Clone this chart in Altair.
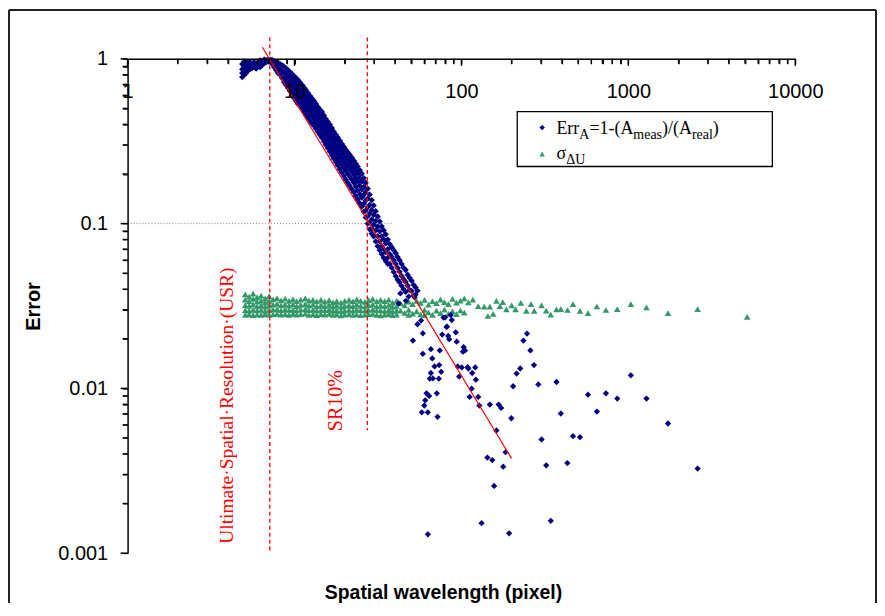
import altair as alt
import pandas as pd

# ---------------- axis ticks ----------------
x_ticks = [1, 2, 3, 4, 5, 6, 7, 8, 9, 10, 20, 30, 40, 50, 60, 70, 80, 90,
           100, 200, 300, 400, 500, 600, 700, 800, 900,
           1000, 2000, 3000, 4000, 5000, 6000, 7000, 8000, 9000, 10000]
x_labels = [1, 10, 100, 1000, 10000]
y_ticks = [0.001, 0.002, 0.003, 0.004, 0.005, 0.006, 0.007, 0.008, 0.009,
           0.01, 0.02, 0.03, 0.04, 0.05, 0.06, 0.07, 0.08, 0.09,
           0.1, 0.2, 0.3, 0.4, 0.5, 0.6, 0.7, 0.8, 0.9, 1]
y_labels = [0.001, 0.01, 0.1, 1]

# ---------------- Err_A series: dense band (x, [y...]) ----------------
err_band = [
    (4.86, [0.929, 0.866, 0.820, 0.775]),
    (5.13, [0.942, 0.878, 0.820]),
    (5.42, [0.955, 0.903, 0.866]),
    (5.73, [0.955, 0.891]),
    (6.05, [0.955, 0.903]),
    (6.40, [0.968, 0.916]),
    (6.76, [0.982, 0.955]),
    (7.14, [0.989, 0.968]),
    (7.54, [0.968, 0.891]),
    (7.97, [0.942, 0.878, 0.820]),
    (8.42, [0.916, 0.843, 0.765]),
    (8.90, [0.878, 0.809, 0.743, 0.693]),
    (9.40, [0.831, 0.765, 0.703, 0.638]),
    (9.93, [0.786, 0.723, 0.665, 0.620, 0.579]),
    (10.5, [0.743, 0.684, 0.629, 0.579, 0.532]),
    (11.1, [0.693, 0.638, 0.587, 0.540, 0.497]),
    (11.7, [0.647, 0.595, 0.547, 0.504, 0.457]),
    (12.4, [0.595, 0.547, 0.504, 0.463, 0.420]),
    (13.1, [0.555, 0.511, 0.470, 0.432, 0.392]),
    (13.8, [0.511, 0.470, 0.432, 0.398, 0.361]),
    (14.6, [0.476, 0.438, 0.403, 0.366, 0.332]),
    (15.4, [0.432, 0.398, 0.366, 0.332, 0.301]),
    (16.3, [0.398, 0.366, 0.332, 0.301, 0.273]),
    (17.2, [0.361, 0.332, 0.301, 0.273, 0.248]),
    (18.2, [0.332, 0.301, 0.273, 0.248, 0.225]),
    (19.2, [0.305, 0.277, 0.252, 0.228, 0.204]),
    (20.3, [0.281, 0.255, 0.231, 0.210, 0.185]),
    (21.4, [0.262, 0.238, 0.216, 0.193, 0.170]),
    (22.7, [0.241, 0.219, 0.198, 0.177, 0.155]),
    (23.9, [0.222, 0.201, 0.180, 0.159, 0.140]),
    (25.3, [0.201, 0.180, 0.161, 0.144, 0.127]),
    (26.7, [0.177, 0.155, 0.138, 0.120, 0.109]),
    (28.2, [0.150, 0.130, 0.115, 0.102, 0.0923]),
    (29.8, [0.129, 0.113, 0.0986, 0.0838]),
    (31.5, [0.1105, 0.0962, 0.0838, 0.0730]),
    (33.3, [0.0962, 0.0838, 0.0730, 0.0653]),
    (35.2, [0.0861, 0.0760, 0.0671, 0.0593]),
    (37.2, [0.0750, 0.0653, 0.0569]),
    (39.3, [0.0690, 0.0601, 0.0509]),
    (41.5, [0.0627, 0.0538, 0.0456]),
    (43.8, [0.0569, 0.0481, 0.0419]),
    (46.3, [0.0523, 0.0443, 0.0385]),
    (48.9, [0.0469, 0.0396]),
    (51.7, [0.0425, 0.0365]),
    (54.6, [0.0391]),
]
# second (staggered) set of readings inside the same dense band
err_band_b = [
    (4.99, [0.960, 0.898, 0.843, 0.797]),
    (5.27, [0.962, 0.910, 0.849]),
    (5.57, [0.935, 0.878]),
    (5.89, [0.929, 0.872]),
    (6.22, [0.980, 0.935, 0.890]),
    (6.58, [0.990, 0.942]),
    (6.95, [0.985, 0.962]),
    (7.34, [0.985, 0.935]),
    (7.75, [0.955, 0.916, 0.855]),
    (8.19, [0.929, 0.861, 0.800]),
    (8.66, [0.897, 0.826, 0.765, 0.720]),
    (9.15, [0.855, 0.787, 0.723, 0.665]),
    (9.66, [0.810, 0.745, 0.686, 0.640, 0.600]),
    (10.2, [0.765, 0.703, 0.647, 0.600, 0.555]),
    (10.8, [0.718, 0.660, 0.607, 0.560, 0.515]),
    (11.4, [0.670, 0.616, 0.567, 0.522, 0.477]),
    (12.05, [0.620, 0.570, 0.525, 0.483, 0.440]),
    (12.75, [0.575, 0.529, 0.487, 0.447, 0.405]),
    (13.45, [0.533, 0.490, 0.451, 0.415, 0.376]),
    (14.2, [0.493, 0.453, 0.417, 0.382, 0.346]),
    (15.0, [0.453, 0.417, 0.383, 0.349, 0.316]),
    (15.85, [0.415, 0.382, 0.349, 0.316, 0.287]),
    (16.75, [0.380, 0.349, 0.316, 0.287, 0.260]),
    (17.7, [0.346, 0.316, 0.287, 0.260, 0.236]),
    (18.7, [0.318, 0.289, 0.262, 0.237, 0.214]),
    (19.75, [0.293, 0.266, 0.241, 0.219, 0.195]),
    (20.85, [0.271, 0.246, 0.223, 0.201, 0.177]),
    (22.05, [0.251, 0.228, 0.207, 0.185, 0.162]),
    (23.3, [0.231, 0.210, 0.189, 0.168, 0.147]),
    (24.6, [0.211, 0.190, 0.170, 0.151, 0.133]),
    (26.0, [0.189, 0.167, 0.149, 0.132, 0.118]),
    (27.45, [0.163, 0.142, 0.126, 0.111, 0.100]),
    (29.0, [0.139, 0.121, 0.106, 0.093, 0.087]),
    (30.65, [0.119, 0.104, 0.091, 0.078]),
    (32.4, [0.103, 0.090, 0.078, 0.069]),
    (34.25, [0.091, 0.080, 0.070, 0.062]),
    (36.2, [0.080, 0.070, 0.062, 0.057]),
    (38.2, [0.072, 0.063, 0.054]),
    (40.4, [0.066, 0.057, 0.048]),
    (42.6, [0.060, 0.051, 0.044]),
    (45.0, [0.054, 0.046, 0.040]),
    (47.6, [0.049, 0.042]),
    (50.3, [0.045, 0.039]),
    (53.1, [0.041, 0.037]),
]

# ---------------- Err_A series: scattered points (x, y) ----------------
err_scatter = [
    (43.05, 0.0377), (46.5, 0.0340), (48.3, 0.0361), (52.4, 0.0357), (42.1, 0.0328),
    (51.2, 0.0195), (58.7, 0.0216), (54.6, 0.0245), (57.3, 0.0258), (58.7, 0.0162),
    (65.6, 0.0173), (74.2, 0.0170), (66.9, 0.0152), (69.0, 0.0136), (73.6, 0.01385),
    (75.6, 0.0126), (65.6, 0.0124), (64.7, 0.01145), (67.4, 0.0115), (73.2, 0.01145),
    (61.8, 0.00933), (64.1, 0.0090), (60.7, 0.00846), (59.9, 0.00786), (57.9, 0.00716),
    (62.9, 0.00716), (71.2, 0.00933), (71.9, 0.00672), (76.7, 0.0212), (81.4, 0.0236),
    (83.3, 0.0208), (84.5, 0.0199), (92.5, 0.0219), (93.7, 0.0192), (103, 0.0178),
    (102, 0.0167), (105, 0.0170), (78.1, 0.0269), (86.3, 0.0279), (87.5, 0.0260),
    (95.0, 0.0136), (100.4, 0.0134), (109, 0.01345), (110, 0.0132), (121, 0.0134),
    (96.9, 0.0118), (116, 0.0124), (122, 0.0113), (115, 0.00996), (112, 0.00887),
    (126, 0.00887), (128, 0.00786), (148, 0.00797), (167, 0.00797), (173, 0.00761),
    (199, 0.00659), (162, 0.00555), (184, 0.00410), (143, 0.00380), (153, 0.00367),
    (178, 0.00335), (157, 0.00256), (132, 0.00152), (193, 0.00132), (62.9, 0.00130),
    (204, 0.0103), (214, 0.0123), (225, 0.0132), (235, 0.0195), (247, 0.0215),
    (259, 0.0170), (272, 0.01385), (289, 0.01057), (371, 0.01093), (394, 0.00703),
    (302, 0.00490), (322, 0.00341), (431, 0.00352), (466, 0.00513), (513, 0.00506),
    (343, 0.00157), (573, 0.00916), (648, 0.00723), (734, 0.00933), (858, 0.00867),
    (1035, 0.0120), (1284, 0.00867), (1728, 0.00612), (2600, 0.00326), (81.9, 0.0237),
    (80.0, 0.0270),
]

# ---------------- sigma_dU series: dense band (x, [y...]) ----------------
sig_band = [
    (5.07, [0.0372, 0.0346, 0.0320, 0.0298, 0.0279]),
    (5.35, [0.0361, 0.0338, 0.0317, 0.0296, 0.0281]),
    (5.65, [0.0376, 0.0349, 0.0323, 0.0300, 0.0278]),
    (5.97, [0.0358, 0.0336, 0.0315, 0.0297, 0.0280]),
    (6.31, [0.0366, 0.0341, 0.0319, 0.0299, 0.0279]),
    (6.67, [0.0352, 0.0332, 0.0313, 0.0295, 0.0281]),
    (7.04, [0.0363, 0.0340, 0.0318, 0.0298, 0.0280]),
    (7.44, [0.0347, 0.0322, 0.0301, 0.0281]),
    (7.86, [0.0353, 0.0326, 0.0303, 0.0283]),
    (8.31, [0.0342, 0.0319, 0.0298, 0.0280]),
    (8.78, [0.0350, 0.0324, 0.0302, 0.0282]),
    (9.27, [0.0340, 0.0318, 0.0299, 0.0279]),
    (9.79, [0.0348, 0.0323, 0.0300, 0.0283]),
    (10.3, [0.0338, 0.0316, 0.0297, 0.0280]),
    (10.9, [0.0346, 0.0321, 0.0301, 0.0282]),
    (11.6, [0.0352, 0.0325, 0.0303, 0.0284]),
    (12.2, [0.0341, 0.0318, 0.0298, 0.0279]),
    (12.9, [0.0345, 0.0322, 0.0300, 0.0281]),
    (13.6, [0.0337, 0.0315, 0.0296, 0.0278]),
    (14.4, [0.0344, 0.0320, 0.0299, 0.0282]),
    (15.2, [0.0336, 0.0316, 0.0298, 0.0280]),
    (16.1, [0.0343, 0.0321, 0.0301, 0.0283]),
    (17.0, [0.0333, 0.0313, 0.0295, 0.0279]),
    (17.9, [0.0339, 0.0318, 0.0298, 0.0281]),
    (19.0, [0.0331, 0.0312, 0.0294, 0.0277]),
    (20.0, [0.0340, 0.0317, 0.0297, 0.0280]),
    (21.2, [0.0345, 0.0320, 0.0300, 0.0282]),
    (22.4, [0.0338, 0.0316, 0.0296, 0.0279]),
    (23.6, [0.0347, 0.0322, 0.0301, 0.0281]),
    (24.9, [0.0340, 0.0317, 0.0298, 0.0278]),
    (26.4, [0.0335, 0.0314, 0.0296, 0.0280]),
    (27.8, [0.0343, 0.0320, 0.0299, 0.0282]),
    (29.4, [0.0349, 0.0323, 0.0302, 0.0283]),
    (31.1, [0.0337, 0.0315, 0.0297, 0.0279]),
    (32.8, [0.0344, 0.0319, 0.0298, 0.0277]),
    (34.7, [0.0339, 0.0316, 0.0295, 0.0280]),
    (36.7, [0.0346, 0.0321, 0.0300, 0.0282]),
    (38.7, [0.0332, 0.0312, 0.0294, 0.0278]),
    (40.9, [0.0341, 0.0317, 0.0297, 0.0280]),
    (43.2, [0.0328, 0.0296]),
    (45.7, [0.0319, 0.0287]),
    (48.3, [0.0336, 0.0300, 0.0279]),
    (51.0, [0.0325, 0.0284]),
    (53.9, [0.0340, 0.0293]),
    (56.9, [0.0330, 0.0281]),
    (60.1, [0.0344, 0.0300, 0.0278]),
    (63.5, [0.0322, 0.0289]),
    (67.1, [0.0338, 0.0279]),
    (70.9, [0.0329, 0.0296]),
    (74.9, [0.0346, 0.0286]),
    (79.1, [0.0334, 0.0301]),
    (83.6, [0.0325, 0.0283]),
    (88.4, [0.0349, 0.0294]),
    (93.3, [0.0331, 0.0282]),
    (98.6, [0.0341, 0.0297]),
    (104, [0.0352, 0.0288]),
]

# ---------------- sigma_dU series: sparse points (x, y) ----------------
sig_scatter = [
    (110, 0.0333), (117, 0.0346), (126, 0.0316), (137, 0.0313), (144, 0.0275),
    (148, 0.0313), (155, 0.0283), (162, 0.0340), (170, 0.0316), (177, 0.0334),
    (186, 0.0302), (200, 0.0319), (211, 0.0302), (227, 0.0330), (245, 0.0295),
    (261, 0.0325), (273, 0.0295), (302, 0.0319), (322, 0.0296), (343, 0.0280),
    (371, 0.0302), (394, 0.0303), (432, 0.0299), (466, 0.0325), (513, 0.0295),
    (573, 0.0286), (648, 0.0314), (734, 0.0299), (858, 0.0303), (1035, 0.0325),
    (1284, 0.0310), (1728, 0.0286), (2600, 0.0303), (5148, 0.0272),
]

# ---------------- reference lines ----------------
fit_x = [6.42, 199.6]
fit_y = [1.177, 0.00376]
usr_x, usr_top, usr_bottom = 7.11, 1.35, 0.00102
sr10_x, sr10_top, sr10_bottom = 27.3, 1.35, 0.00557
h10_x1, h10_x2, h10_y = 1, 38.7, 0.1

# annotation anchors (data coords, start of rotated text)
usr_label = ("Ultimate·Spatial·Resolution·(USR)", 4.29, 0.00114)
sr10_label = ("SR10%", 19.35, 0.0055)

# ---------------- frames ----------------
band_rows = ([(x, y) for x, ys_ in err_band for y in ys_]
             + [(x, y) for x, ys_ in err_band_b for y in ys_] + err_scatter)
err_df = pd.DataFrame(band_rows, columns=["x", "y"])
sig_rows = [(x, y) for x, ys_ in sig_band for y in ys_] + sig_scatter
sig_df = pd.DataFrame(sig_rows, columns=["x", "y"])
fit_df = pd.DataFrame({"x": fit_x, "y": fit_y})
vl_df = pd.DataFrame({"x": [usr_x, sr10_x], "y": [usr_top, sr10_top],
                      "y2": [usr_bottom, sr10_bottom]})
hl_df = pd.DataFrame({"x": [h10_x1], "x2": [h10_x2], "y": [h10_y]})
xt_major = pd.DataFrame({"x": [v for v in x_ticks if v in x_labels]})
xt_minor = pd.DataFrame({"x": [v for v in x_ticks if v not in x_labels]})
yt_major = pd.DataFrame({"y": [v for v in y_ticks if v in y_labels]})
yt_minor = pd.DataFrame({"y": [v for v in y_ticks if v not in y_labels]})
one = pd.DataFrame({"a": [0]})

W, H = 670, 496
xs = alt.Scale(type="log", domain=[1, 10000], nice=False)
ys = alt.Scale(type="log", domain=[0.001, 1], nice=False)

x_axis = alt.Axis(
    orient="bottom", offset=-H, values=x_ticks, format="~g",
    labelExpr=f"indexof({x_labels}, datum.value) >= 0 ? datum.label : ''",
    labelFlush=False, labelOverlap=False, ticks=True, tickSize=5, labelPadding=18,
    domain=True, domainColor="black", domainWidth=1.5, tickColor="black", tickWidth=1,
    tickOpacity=1, labelColor="black", labelFont="Liberation Sans", labelFontSize=20,
    grid=False, title=None, zindex=2,
)
y_axis = alt.Axis(
    values=y_ticks, format="~g",
    labelExpr=f"indexof({y_labels}, datum.value) >= 0 ? datum.label : ''",
    labelOverlap=False, ticks=True, tickSize=5, labelPadding=15,
    domain=True, domainColor="black", domainWidth=1.5, tickColor="black", tickWidth=1,
    tickOpacity=1, labelColor="black", labelFont="Liberation Sans", labelFontSize=20,
    grid=False, title="Error", titleFont="Liberation Sans", titleFontSize=20,
    titleFontWeight="bold", titleColor="black", titlePadding=14, zindex=2,
)


def X(f="x"):
    return alt.X(f, type="quantitative", scale=xs, axis=x_axis)


def Y(f="y"):
    return alt.Y(f, type="quantitative", scale=ys, axis=y_axis)


NAVY = "#000080"
GREEN = "#339966"

# tick marks drawn through the scales (major ticks a bit longer)
tick_layers = [
    alt.Chart(xt_major).mark_rule(color="black", strokeWidth=1.5).encode(
        x=X(), y=alt.value(0), y2=alt.value(7)),
    alt.Chart(xt_minor).mark_rule(color="black", strokeWidth=1.5).encode(
        x=X(), y=alt.value(0), y2=alt.value(5)),
    alt.Chart(yt_major).mark_rule(color="black", strokeWidth=1.5).encode(
        y=Y(), x=alt.value(-7), x2=alt.value(0)),
    alt.Chart(yt_minor).mark_rule(color="black", strokeWidth=1.5).encode(
        y=Y(), x=alt.value(-5), x2=alt.value(0)),
]

sig_layer = alt.Chart(sig_df).mark_point(
    shape="triangle-up", filled=True, size=44, color=GREEN, opacity=1, strokeWidth=0
).encode(x=X(), y=Y())

err_layer = alt.Chart(err_df).mark_point(
    shape="diamond", filled=True, size=40, color=NAVY, opacity=1, strokeWidth=0
).encode(x=X(), y=Y())

fit_layer = alt.Chart(fit_df).mark_line(color="#FF0000", strokeWidth=1.2).encode(x=X(), y=Y())

vl_layer = alt.Chart(vl_df).mark_rule(color="#FF0000", strokeDash=[4, 3], strokeWidth=1.3).encode(
    x=X(), y=Y(), y2="y2:Q")

hl_layer = alt.Chart(hl_df).mark_rule(color="#808080", strokeDash=[1, 2], strokeWidth=1).encode(
    x=X(), x2="x2:Q", y=Y())


def rot_label(lbl, size):
    t, lx, ly = lbl
    d = pd.DataFrame({"t": [t], "x": [lx], "y": [ly]})
    return alt.Chart(d).mark_text(
        angle=270, align="left", baseline="alphabetic", font="Liberation Serif",
        fontSize=size, color="#FF0000"
    ).encode(x=X(), y=Y(), text="t:N")


usr_layer = rot_label(usr_label, 19.5)
sr_layer = rot_label(sr10_label, 20)

# outer frame (top, left, right)
FR = "#222222"
frame = [
    alt.Chart(one).mark_rule(color=FR, strokeWidth=2).encode(
        x=alt.value(-119), x2=alt.value(751), y=alt.value(-49)),
    alt.Chart(one).mark_rule(color=FR, strokeWidth=2).encode(
        x=alt.value(-119), y=alt.value(-49), y2=alt.value(546)),
    alt.Chart(one).mark_rule(color=FR, strokeWidth=2).encode(
        x=alt.value(751), y=alt.value(-49), y2=alt.value(546)),
]

xtitle = alt.Chart(one).mark_text(
    font="Liberation Sans", fontSize=19.5, fontWeight="bold", color="black",
    align="center", baseline="alphabetic"
).encode(x=alt.value(317), y=alt.value(541.8), text=alt.value("Spatial wavelength (pixel)"))

# ---------------- legend ----------------
LX1, LX2, LY1, LY2 = 391, 647, 53, 108
legend = [
    alt.Chart(one).mark_rect(fill="white", stroke="black", strokeWidth=1.3).encode(
        x=alt.value(LX1), x2=alt.value(LX2), y=alt.value(LY1), y2=alt.value(LY2)),
    alt.Chart(one).mark_point(shape="diamond", filled=True, size=30, color=NAVY, opacity=1,
                              strokeWidth=0).encode(x=alt.value(416), y=alt.value(69)),
    alt.Chart(one).mark_point(shape="triangle-up", filled=True, size=30, color=GREEN, opacity=1,
                              strokeWidth=0).encode(x=alt.value(416), y=alt.value(95.5)),
]
CW = {"E": 0.611, "r": 0.333, "A": 0.722, "=": 0.564, "1": 0.5, "-": 0.333, "(": 0.333,
      ")": 0.333, "/": 0.278, "m": 0.778, "e": 0.444, "a": 0.444, "s": 0.389, "l": 0.278,
      "σ": 0.55, "Δ": 0.612, "U": 0.722}
entries = [
    (75, [("Err", 0), ("A", 1), ("=1-(", 0), ("A", 0), ("meas", 1), (")/(", 0),
          ("A", 0), ("real", 1), (")", 0)]),
    (100.3, [("σ", 0), ("ΔU", 1)]),
]
for base_y, frags in entries:
    cx = 430.3
    for txt, sub in frags:
        fs = 14 if sub else 18
        legend.append(alt.Chart(one).mark_text(
            font="Liberation Serif", fontSize=fs, color="black", align="left",
            baseline="alphabetic").encode(
            x=alt.value(cx), y=alt.value(base_y + (5 if sub else 0)), text=alt.value(txt)))
        cx += sum(CW.get(c, 0.5) for c in txt) * fs

chart = alt.layer(
    *frame, hl_layer, sig_layer, err_layer, fit_layer, vl_layer,
    usr_layer, sr_layer, xtitle, *legend, *tick_layers
).properties(width=W, height=H, padding=0, background="white").configure_view(stroke=None)

chart.save("out.html", embed_options={"renderer": "svg", "actions": False})
